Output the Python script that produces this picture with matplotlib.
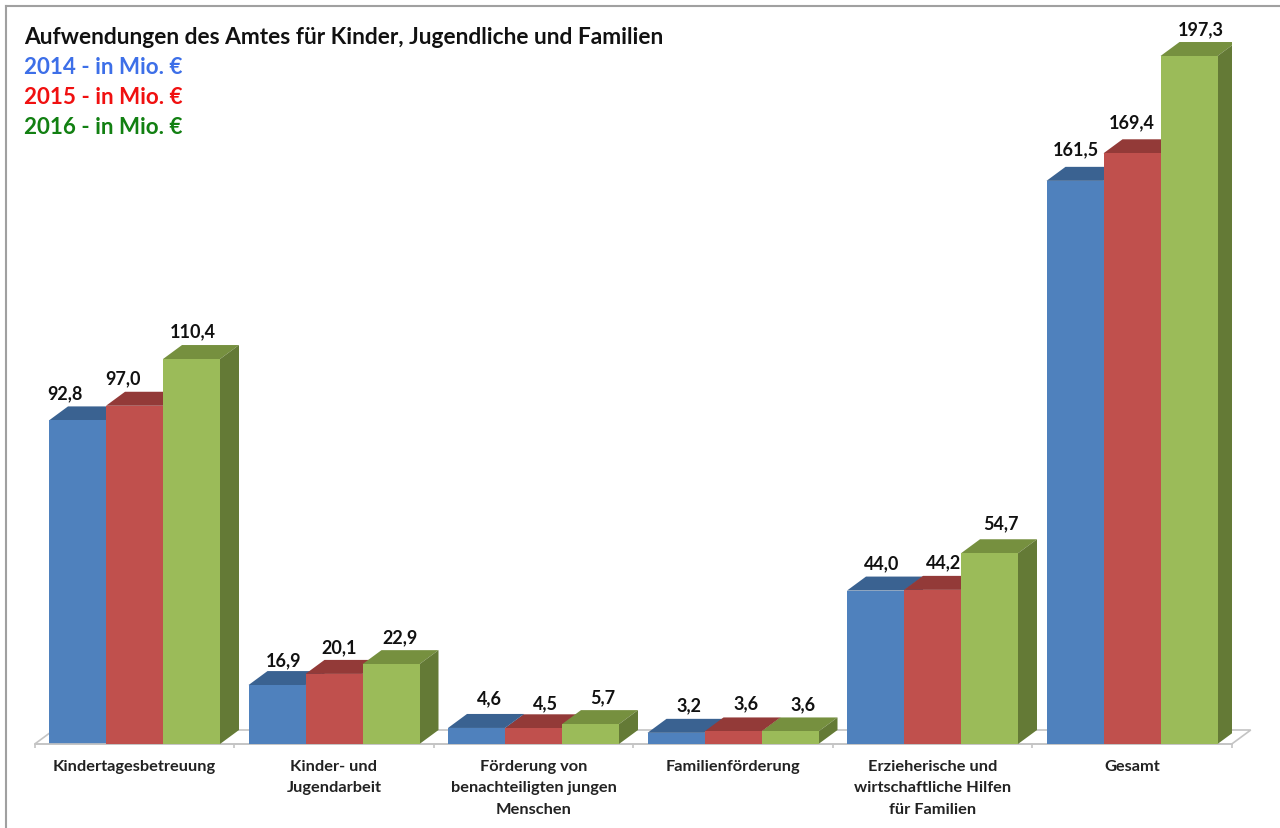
import matplotlib
matplotlib.use('Agg')
import matplotlib.pyplot as plt
from matplotlib.patches import Polygon
from matplotlib.lines import Line2D

plt.rcParams['font.family'] = ['Lato', 'DejaVu Sans']
plt.rcParams['font.weight'] = 'bold'

categories = ['Kindertagesbetreuung', 'Kinder- und\nJugendarbeit',
              'Förderung von\nbenachteiligten jungen\nMenschen', 'Familienförderung',
              'Erzieherische und\nwirtschaftliche Hilfen\nfür Familien', 'Gesamt']
years = ['2014', '2015', '2016']
values_2014 = [92.8, 16.9, 4.6, 3.2, 44.0, 161.5]
values_2015 = [97.0, 20.1, 4.5, 3.6, 44.2, 169.4]
values_2016 = [110.4, 22.9, 5.7, 3.6, 54.7, 197.3]
series = [values_2014, values_2015, values_2016]

front = ['#4f81bd', '#c0504d', '#9bbb59']
top = ['#3a6291', '#933a38', '#76903f']
side = ['#3a6291', '#933a38', '#647a36']
legend_colors = ['#3d6fe8', '#f01010', '#128012']

# label shifts in pixels (x from bar centre, y from bar top)
label_dx = [[-13, -12, 1], [7, 5, 9], [13, 12, 12], [13, 13, 13], [6, 11, 11], [1, 0, 12]]
label_dy = [[28, 28, 28], [25, 27, 27], [30, 26, 27], [28, 29, 28], [28, 28, 31], [32, 32, 27]]

W, H = 1280, 829
fig = plt.figure(figsize=(W / 100, H / 100), dpi=100)
ax = fig.add_axes([34.75 / W, 84 / H, 1197 / W, 745 / H])
ax.set_xlim(-0.5, 5.5)
ax.set_ylim(0, 745 / 3.487)

bar_w = 57 / 199.5
depth_x = 19 / 199.5
depth_y = 14 / 3.487

# floor of the 3d chart
ax.add_patch(Polygon([(-0.5, 0), (5.5, 0), (5.5 + depth_x, depth_y), (-0.5 + depth_x, depth_y)],
                     closed=True, facecolor='white', edgecolor='#c4c4c4', lw=1.2,
                     clip_on=False, zorder=1))

for g in range(len(categories)):
    for s in range(len(series)):
        v = series[s][g]
        x0 = g + (s - 1.5) * bar_w
        x1 = x0 + bar_w
        z = 2 + g * 3 + s
        ax.add_patch(Polygon([(x0, v), (x1, v), (x1 + depth_x, v + depth_y), (x0 + depth_x, v + depth_y)],
                             closed=True, facecolor=top[s], edgecolor='none', zorder=z))
        ax.add_patch(Polygon([(x1, 0), (x1 + depth_x, depth_y), (x1 + depth_x, v + depth_y), (x1, v)],
                             closed=True, facecolor=side[s], edgecolor='none', zorder=z))
        ax.bar(x0, v, width=bar_w, align='edge', color=front[s], zorder=z + 0.5)
        ax.annotate(str(v).replace('.', ','), xy=(x0 + bar_w / 2, v),
                    xytext=(label_dx[g][s], label_dy[g][s]), textcoords='offset pixels',
                    ha='center', va='center', fontsize=13, color='#111111', zorder=40)

for name in ['top', 'left', 'right']:
    ax.spines[name].set_visible(False)
ax.spines['bottom'].set_color('#c4c4c4')
ax.spines['bottom'].set_linewidth(1.2)
ax.patch.set_alpha(0)
ax.set_yticks([])
ax.set_xticks(range(len(categories)))
ax.set_xticklabels(categories, fontsize=11.8, color='#222222', linespacing=1.7)
ax.tick_params(axis='x', which='major', length=0, pad=10.5)
ax.set_xticks([i - 0.5 for i in range(len(categories) + 1)], minor=True)
ax.tick_params(axis='x', which='minor', length=3, color='#c4c4c4', width=1.2)

# legend-like heading lines
fig.text(24 / W, 1 - 44 / H, 'Aufwendungen des Amtes für Kinder, Jugendliche und Familien',
         fontsize=16.4, color='#111111', va='baseline')
for year, color, py in zip(years, legend_colors, [73.5, 103.5, 133.5]):
    fig.text(24 / W, 1 - py / H, year + ' - in Mio. €', fontsize=16.1, color=color, va='baseline')

# picture frame
fig.add_artist(Line2D([6 / W, 6 / W], [0, 1 - 7 / H], color='#a0a0a0', lw=1.5))
fig.add_artist(Line2D([6 / W, 1], [1 - 7 / H, 1 - 7 / H], color='#a0a0a0', lw=1.5))

fig.savefig('out.png', dpi=100)
